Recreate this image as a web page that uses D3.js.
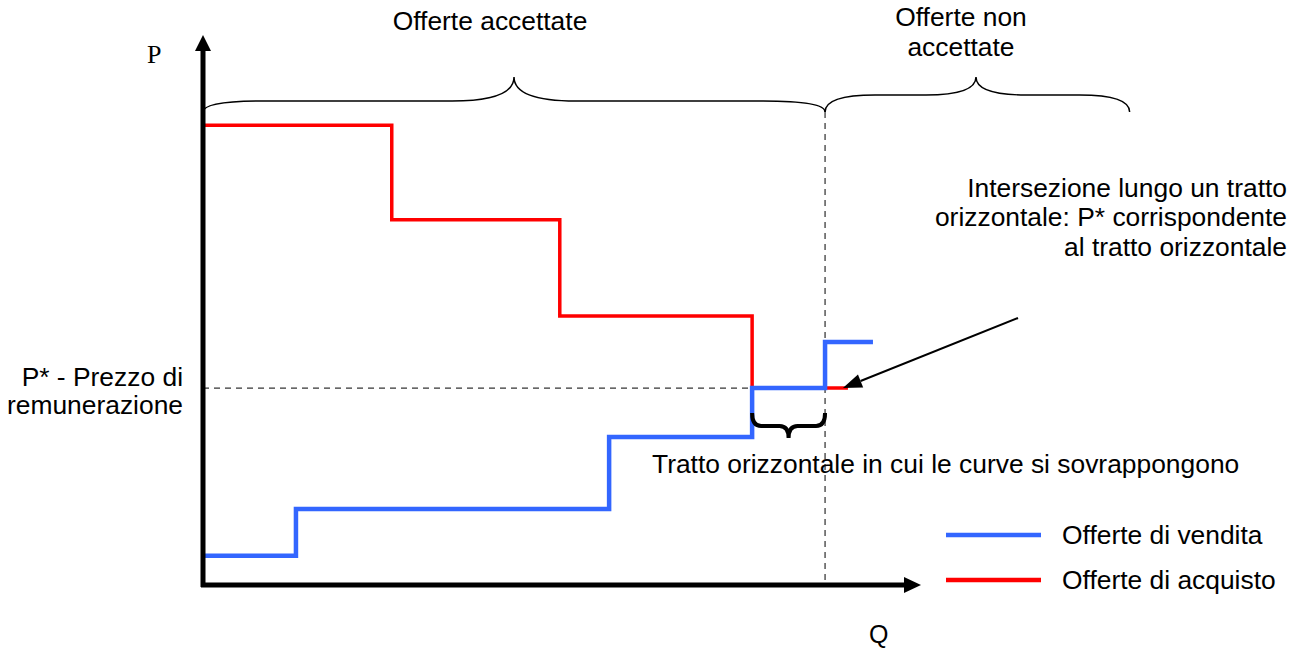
<!DOCTYPE html>
<html><head><meta charset="utf-8">
<script src="https://cdn.jsdelivr.net/npm/d3@7/dist/d3.min.js"></script>
<style>html,body{margin:0;padding:0;background:#fff;}svg{display:block;}</style>
</head><body>
<script>
// ---- data ----
const sellQ = [0, 13, 56.8, 76.8, 87, 93.7];
const sellP = [5.3, 13.8, 26.9, 35.8, 44.2, 44.2];
const buyQ = [0, 26.4, 49.9, 76.8, 90.2];
const buyP = [83.6, 66.4, 48.9, 35.8, 35.8];
const pStar = 35.8;
const qStar = 87;
const overlapQ = [76.8, 87];
const rejectedEndQ = 129.6;
const seriesNames = ["Offerte di vendita", "Offerte di acquisto"];
const seriesColors = ["#3366FF", "#FF0000"];

const W = 1293, H = 648;
const svg = d3.select("body").append("svg").attr("width", W).attr("height", H);
const x = d3.scaleLinear().domain([0, 100]).range([203, 918]);
const y = d3.scaleLinear().domain([0, 100]).range([585, 35]);
const font = "Arial, 'Liberation Sans', sans-serif";
const FS = 26.4;

// dashed guides
svg.append("line").attr("x1", x(0)).attr("x2", x(overlapQ[0])).attr("y1", y(pStar)).attr("y2", y(pStar))
  .attr("stroke", "#000").attr("stroke-width", 1).attr("stroke-dasharray", "6,5");
svg.append("line").attr("x1", x(qStar)).attr("x2", x(qStar)).attr("y1", 112).attr("y2", y(0))
  .attr("stroke", "#000").attr("stroke-width", 1).attr("stroke-dasharray", "6,5");

// step curves
const line = d3.line().x(d => x(d[0])).y(d => y(d[1])).curve(d3.curveStepAfter);
svg.append("path").datum(buyQ.map((q, i) => [q, buyP[i]])).attr("d", line)
  .attr("fill", "none").attr("stroke", seriesColors[1]).attr("stroke-width", 3.5);
svg.append("path").datum(sellQ.map((q, i) => [q, sellP[i]])).attr("d", line)
  .attr("fill", "none").attr("stroke", seriesColors[0]).attr("stroke-width", 4.5);

// axes
svg.append("line").attr("x1", x(0)).attr("x2", x(0)).attr("y1", y(0) + 2).attr("y2", 48)
  .attr("stroke", "#000").attr("stroke-width", 5);
svg.append("path").attr("d", `M${x(0)},35 L${x(0) - 8},51 L${x(0) + 8},51 Z`).attr("fill", "#000");
svg.append("line").attr("x1", x(0) - 2).attr("x2", 906).attr("y1", y(0)).attr("y2", y(0))
  .attr("stroke", "#000").attr("stroke-width", 5);
svg.append("path").attr("d", `M921,${y(0)} L904,${y(0) - 8} L904,${y(0) + 8} Z`).attr("fill", "#000");

svg.append("text").attr("x", 147).attr("y", 63).text("P")
  .attr("font-family", "'Times New Roman', 'Liberation Serif', serif").attr("font-size", 26);
svg.append("text").attr("x", 869).attr("y", 643).text("Q")
  .attr("font-family", font).attr("font-size", 25);

// braces
function brace(x1, x2, yEnd, yBar, yTip, r, xm) {
  xm = xm === undefined ? (x1 + x2) / 2 : xm;
  return `M${x1},${yEnd} Q${x1},${yBar} ${x1 + r},${yBar} L${xm - r},${yBar} Q${xm},${yBar} ${xm},${yTip} ` +
         `Q${xm},${yBar} ${xm + r},${yBar} L${x2 - r},${yBar} Q${x2},${yBar} ${x2},${yEnd}`;
}
svg.append("path").attr("d", brace(x(0), x(qStar), 112, 101, 77, 62))
  .attr("fill", "none").attr("stroke", "#000").attr("stroke-width", 1.5);
svg.append("path").attr("d", brace(x(qStar), x(rejectedEndQ), 112, 95, 77, 50, 976))
  .attr("fill", "none").attr("stroke", "#000").attr("stroke-width", 1.5);
svg.append("path").attr("d", brace(x(overlapQ[0]), x(overlapQ[1]), 413, 426, 438, 9))
  .attr("fill", "none").attr("stroke", "#000").attr("stroke-width", 4);

// texts
const txt = (tx, ty, s, anchor) => svg.append("text").attr("x", tx).attr("y", ty).text(s)
  .attr("font-family", font).attr("font-size", FS).attr("fill", "#000").attr("text-anchor", anchor || "start");
txt(490, 30, "Offerte accettate", "middle");
txt(961, 26, "Offerte non", "middle");
txt(961, 56, "accettate", "middle");
txt(1287, 197, "Intersezione lungo un tratto", "end");
txt(1287, 226, "orizzontale: P* corrispondente", "end");
txt(1287, 256, "al tratto orizzontale", "end");
txt(183, 386, "P* - Prezzo di", "end");
txt(183, 414, "remunerazione", "end");
txt(652, 473, "Tratto orizzontale in cui le curve si sovrappongono", "start");

// annotation arrow
const tip = [x(89.5), y(pStar)], tail = [1018, 318];
const ang = Math.atan2(tail[1] - tip[1], tail[0] - tip[0]);
const L = 19, Wd = 7;
const bx = tip[0] + L * Math.cos(ang), by = tip[1] + L * Math.sin(ang);
svg.append("line").attr("x1", tail[0]).attr("y1", tail[1]).attr("x2", bx).attr("y2", by)
  .attr("stroke", "#000").attr("stroke-width", 2);
svg.append("path").attr("d", `M${tip[0]},${tip[1]} L${bx + Wd * Math.sin(ang)},${by - Wd * Math.cos(ang)} L${bx - Wd * Math.sin(ang)},${by + Wd * Math.cos(ang)} Z`)
  .attr("fill", "#000");

// legend
seriesNames.forEach((n, i) => {
  const ly = 535 + i * 45;
  svg.append("line").attr("x1", 946).attr("x2", 1041).attr("y1", ly).attr("y2", ly)
    .attr("stroke", seriesColors[i]).attr("stroke-width", 4.5);
  txt(1062, ly + 9, n, "start");
});
</script>
</body></html>
